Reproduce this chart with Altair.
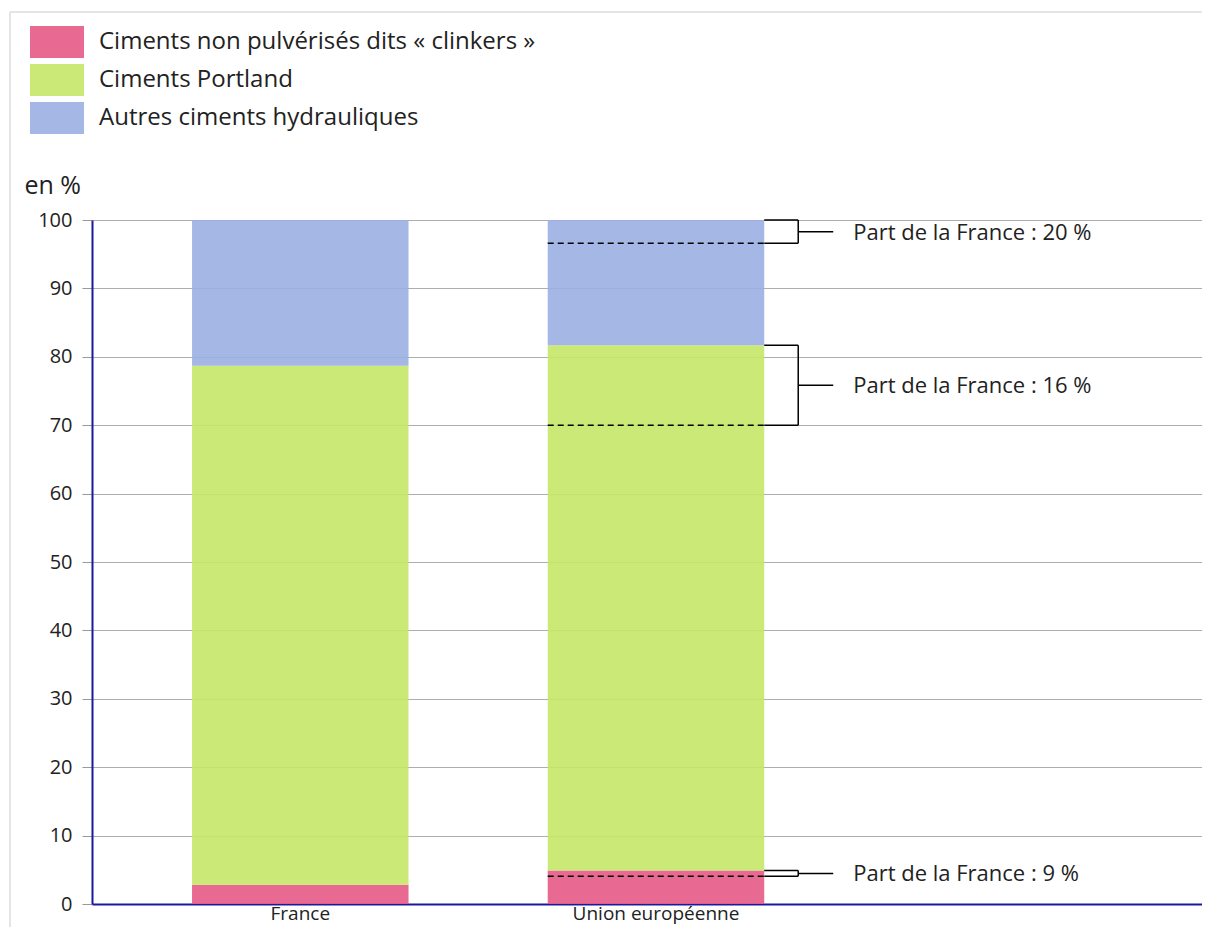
import altair as alt
import pandas as pd

# ---- data ----
categories = ["France", "Union européenne"]
series = ["Ciments non pulvérisés dits « clinkers »", "Ciments Portland", "Autres ciments hydrauliques"]
clinkers = [2.8, 4.9]
portland = [75.9, 76.8]
autres = [21.3, 18.3]
colors = ["#E55986", "#C5E767", "#9BAFE2"]

# share of France in the EU bar (dashed line levels) and labels
eu_dashed = [4.05, 70.0, 96.6]
anno_labels = ["Part de la France : 9 %", "Part de la France : 16 %", "Part de la France : 20 %"]

y_ticks = list(range(0, 101, 10))

# ---- tables ----
rows = []
for i, cat in enumerate(categories):
    for k, (name, vals) in enumerate(zip(series, [clinkers, portland, autres])):
        rows.append({"cat": cat, "serie": name, "ordre": k, "val": vals[i]})
df = pd.DataFrame(rows)

eu_vals = [clinkers[1], portland[1], autres[1]]
tops = []
acc = 0.0
for v in eu_vals:
    acc += v
    tops.append(round(acc, 2))
anno = pd.DataFrame({
    "cat": [categories[1]] * 3,
    "top": tops,
    "dash": eu_dashed,
    "mid": [(t + d) / 2 for t, d in zip(tops, eu_dashed)],
    "label": anno_labels,
})

FONT = "Open Sans"
xscale = alt.Scale(domain=categories, paddingInner=0.3913, paddingOuter=0.756, align=0.186)
yscale = alt.Scale(domain=[0, 100], nice=False)

bars = alt.Chart(df).mark_bar(opacity=0.9).encode(
    x=alt.X("cat:N", scale=xscale, sort=categories,
            axis=alt.Axis(title=None, labelAngle=0, ticks=False, labelFontSize=19,
                          labelPadding=0, labelColor="#222", domainColor="#1a1a9c",
                          domainWidth=2, labelFont=FONT)),
    y=alt.Y("val:Q", stack="zero", scale=yscale,
            axis=alt.Axis(title="en %", titleAngle=0, titleAlign="left", titleBaseline="middle",
                          titleX=-68, titleY=-35, titleFontSize=25, titleFontWeight="normal",
                          titleColor="#222", titleFont=FONT,
                          values=y_ticks, labelFontSize=20, labelColor="#222", labelFont=FONT,
                          labelPadding=10, tickSize=10, tickColor="#999",
                          gridColor="#adadad", domainColor="#1a1a9c", domainWidth=2)),
    color=alt.Color("serie:N", scale=alt.Scale(domain=series, range=colors),
                    legend=alt.Legend(title=None, orient="none", legendX=-51, legendY=-194,
                                      symbolType="M-1.6875,-1L1.6875,-1L1.6875,1L-1.6875,1Z",
                                      symbolSize=1024, symbolStrokeWidth=0,
                                      labelFontSize=24, labelFont=FONT, labelColor="#222",
                                      labelOffset=26, rowPadding=6, labelLimit=800)),
    order=alt.Order("ordre:Q"),
)

base = alt.Chart(anno)
dashed = base.mark_rule(color="black", strokeWidth=1.5, strokeDash=[6, 4]).encode(
    x=alt.X("cat:N", scale=xscale, bandPosition=0),
    x2=alt.X2("cat", bandPosition=1),
    y=alt.Y("dash:Q", scale=yscale),
)
br_top = base.mark_rule(color="black", strokeWidth=1.5, x2Offset=34).encode(
    x=alt.X("cat:N", scale=xscale, bandPosition=1),
    x2=alt.X2("cat", bandPosition=1),
    y=alt.Y("top:Q", scale=yscale),
)
br_bot = base.mark_rule(color="black", strokeWidth=1.5, x2Offset=34).encode(
    x=alt.X("cat:N", scale=xscale, bandPosition=1),
    x2=alt.X2("cat", bandPosition=1),
    y=alt.Y("dash:Q", scale=yscale),
)
br_vert = base.mark_rule(color="black", strokeWidth=1.5, xOffset=34).encode(
    x=alt.X("cat:N", scale=xscale, bandPosition=1),
    y=alt.Y("top:Q", scale=yscale),
    y2="dash:Q",
)
connector = base.mark_rule(color="black", strokeWidth=1.5, xOffset=34, x2Offset=69).encode(
    x=alt.X("cat:N", scale=xscale, bandPosition=1),
    x2=alt.X2("cat", bandPosition=1),
    y=alt.Y("mid:Q", scale=yscale),
)
texts = base.mark_text(align="left", baseline="middle", dx=89, dy=1, fontSize=22, font=FONT,
                       color="#222").encode(
    x=alt.X("cat:N", scale=xscale, bandPosition=1),
    y=alt.Y("mid:Q", scale=yscale),
    text="label:N",
)

frame_top = alt.Chart(pd.DataFrame({"a": [0]})).mark_rule(color="#dddddd", strokeWidth=1.5).encode(
    x=alt.value(-82), x2=alt.value(1140), y=alt.value(-208))
frame_left = alt.Chart(pd.DataFrame({"a": [0]})).mark_rule(color="#dddddd", strokeWidth=1.5).encode(
    x=alt.value(-82), y=alt.value(-208), y2=alt.value(740))

chart = alt.layer(frame_top, frame_left, bars, dashed, br_top, br_bot, br_vert, connector, texts).properties(
    width=1110, height=684,
    autosize=alt.AutoSizeParams(type="none"),
    padding={"left": 84, "top": 212, "right": 0, "bottom": 23},
).configure_view(stroke=None).configure(font=FONT)

chart.save("out.html", embed_options={"renderer": "svg", "actions": False})
